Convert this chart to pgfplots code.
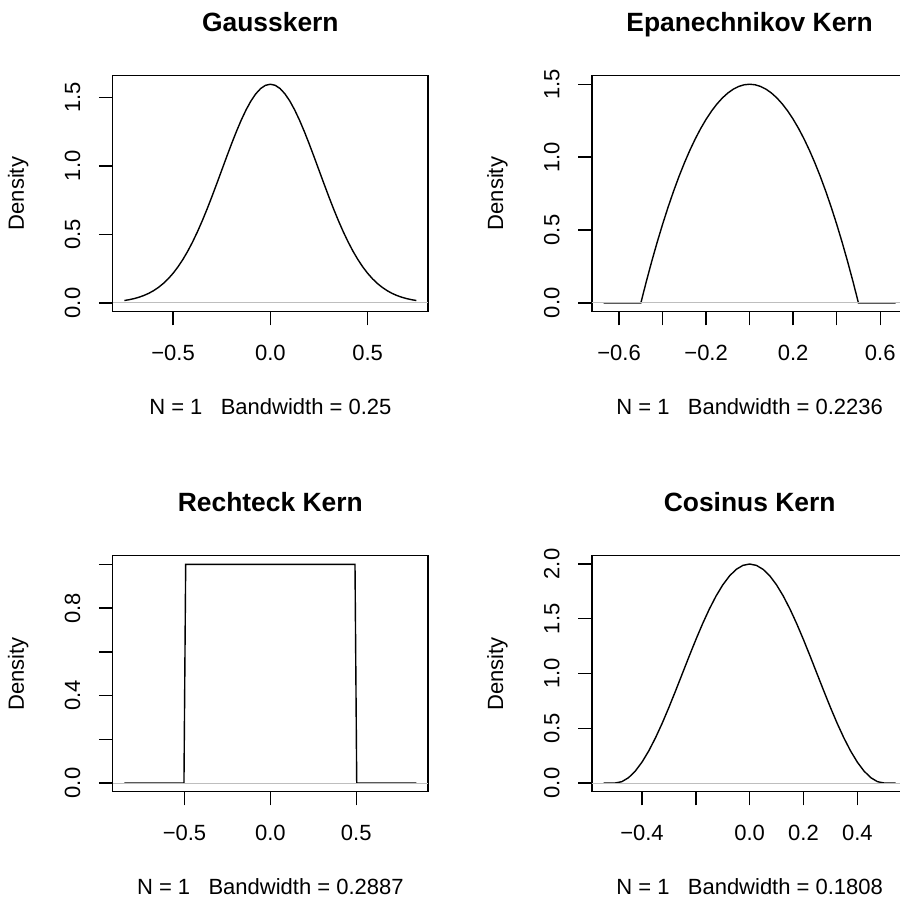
\documentclass[border=0pt]{standalone}
\usepackage{pgfplots}
\pgfplotsset{compat=1.18}
\usepackage{fontspec}
\setmainfont{Liberation Sans}
\definecolor{zerogray}{HTML}{BEBEBE}
\pgfplotsset{
  rpanel/.style={
    scale only axis, width=157.65pt, height=118.1pt,
    axis line style={line width=0.7pt},
    tick style={black, line width=0.7pt},
    tick align=outside, major tick length=6.85pt,
    xtick pos=bottom, ytick pos=left,
    minor tick num=0,
    tick label style={font=\fontsize{11}{13}\selectfont, inner sep=0pt},
    xticklabel style={anchor=north},
    yticklabel style={rotate=90, anchor=south},
    xticklabel shift=9.65pt,
    yticklabel shift=9.15pt,
    every axis title shift=0pt,
    title style={at={(axis description cs:0.5,1.1853)}, anchor=base, inner sep=0pt, yshift=0pt, font=\bfseries\fontsize{13.2}{16}\selectfont},
    xlabel style={at={(axis description cs:0.5,-0.4365)}, anchor=base, inner sep=0pt, font=\fontsize{11}{13}\selectfont},
    ylabel style={at={(axis description cs:-0.2662,0.5)}, anchor=south, inner sep=0pt, font=\fontsize{11}{13}\selectfont},
    ylabel={Density},
  },
  curve/.style={black, line width=0.7pt, mark=none},
  zline/.style={zerogray, line width=0.5pt, mark=none},
}
\begin{document}
\begin{tikzpicture}
\useasboundingbox (0,0) rectangle (450pt,448.5pt);
\clip (0,0) rectangle (450pt,448.5pt);

% Panel 1: Gauss
\begin{axis}[rpanel, at={(56.35pt,292.65pt)},
  xmin=-0.81, xmax=0.81, ymin=-0.0638, ymax=1.6596,
  xtick={-0.5,0,0.5}, xticklabels={−0.5,0.0,0.5},
  ytick={0,0.5,1,1.5}, yticklabels={0.0,0.5,1.0,1.5},
  title={Gausskern}, xlabel={N = 1\ \ \ Bandwidth = 0.25}]
\addplot[curve] coordinates {
(-0.750,0.017727)(-0.725,0.023811)(-0.700,0.031661)(-0.675,0.041684)(-0.650,0.054331)
(-0.625,0.070113)(-0.600,0.089578)(-0.575,0.113309)(-0.550,0.141899)(-0.525,0.175934)
(-0.500,0.215964)(-0.475,0.262466)(-0.450,0.315801)(-0.425,0.376196)(-0.400,0.443683)
(-0.375,0.518071)(-0.350,0.598890)(-0.325,0.685475)(-0.300,0.776744)(-0.275,0.871409)
(-0.250,0.967882)(-0.225,1.064342)(-0.200,1.158772)(-0.175,1.249018)(-0.150,1.332904)
(-0.125,1.408264)(-0.100,1.473081)(-0.075,1.525550)(-0.050,1.564171)(-0.025,1.587810)
(0.000,1.595769)
(0.025,1.587810)(0.050,1.564171)(0.075,1.525550)(0.100,1.473081)(0.125,1.408264)
(0.150,1.332904)(0.175,1.249018)(0.200,1.158772)(0.225,1.064342)(0.250,0.967882)
(0.275,0.871409)(0.300,0.776744)(0.325,0.685475)(0.350,0.598890)(0.375,0.518071)
(0.400,0.443683)(0.425,0.376196)(0.450,0.315801)(0.475,0.262466)(0.500,0.215964)
(0.525,0.175934)(0.550,0.141899)(0.575,0.113309)(0.600,0.089578)(0.625,0.070113)
(0.650,0.054331)(0.675,0.041684)(0.700,0.031661)(0.725,0.023811)(0.750,0.017727)
};
\addplot[zline] coordinates {(-0.81,0)(0.81,0)};
\end{axis}

% Panel 2: Epanechnikov
\begin{axis}[rpanel, at={(296pt,292.65pt)},
  xmin=-0.7245, xmax=0.7245, ymin=-0.06, ymax=1.56,
  xtick={-0.6,-0.4,-0.2,0,0.2,0.4,0.6}, xticklabels={−0.6,,−0.2,,0.2,,0.6},
  ytick={0,0.5,1,1.5}, yticklabels={0.0,0.5,1.0,1.5},
  title={Epanechnikov Kern}, xlabel={N = 1\ \ \ Bandwidth = 0.2236}]
\addplot[curve] coordinates {
(-0.6708,0)(-0.500,0)(-0.475,0.14625)(-0.450,0.285)(-0.425,0.41625)(-0.400,0.54)
(-0.375,0.65625)(-0.350,0.765)(-0.325,0.86625)(-0.300,0.96)(-0.275,1.04625)
(-0.250,1.125)(-0.225,1.19625)(-0.200,1.26)(-0.175,1.31625)(-0.150,1.365)
(-0.125,1.40625)(-0.100,1.44)(-0.075,1.46625)(-0.050,1.485)(-0.025,1.49625)
(0.000,1.5)
(0.025,1.49625)(0.050,1.485)(0.075,1.46625)(0.100,1.44)(0.125,1.40625)
(0.150,1.365)(0.175,1.31625)(0.200,1.26)(0.225,1.19625)(0.250,1.125)
(0.275,1.04625)(0.300,0.96)(0.325,0.86625)(0.350,0.765)(0.375,0.65625)
(0.400,0.54)(0.425,0.41625)(0.450,0.285)(0.475,0.14625)(0.500,0)(0.6708,0)
};
\addplot[zline] coordinates {(-0.7245,0)(0.7245,0)};
\end{axis}

% Panel 3: Rechteck
\begin{axis}[rpanel, at={(56.35pt,52.6pt)},
  xmin=-0.918, xmax=0.918, ymin=-0.04, ymax=1.04,
  xtick={-0.5,0,0.5}, xticklabels={−0.5,0.0,0.5},
  ytick={0,0.2,0.4,0.6,0.8,1.0}, yticklabels={0.0,,0.4,,0.8,},
  title={Rechteck Kern}, xlabel={N = 1\ \ \ Bandwidth = 0.2887}]
\addplot[curve] coordinates {
(-0.85,0)(-0.503,0)(-0.493,1)(0.493,1)(0.503,0)(0.85,0)
};
\addplot[zline] coordinates {(-0.918,0)(0.918,0)};
\end{axis}

% Panel 4: Cosinus
\begin{axis}[rpanel, at={(296pt,52.6pt)},
  xmin=-0.5858, xmax=0.5858, ymin=-0.08, ymax=2.077,
  xtick={-0.4,-0.2,0,0.2,0.4}, xticklabels={−0.4,,0.0,0.2,0.4},
  ytick={0,0.5,1,1.5,2}, yticklabels={0.0,0.5,1.0,1.5,2.0},
  title={Cosinus Kern}, xlabel={N = 1\ \ \ Bandwidth = 0.1808}]
\addplot[curve] coordinates {
(-0.5424,0)(-0.500,0)(-0.475,0.012312)(-0.450,0.048943)(-0.425,0.108993)(-0.400,0.190983)
(-0.375,0.292893)(-0.350,0.412215)(-0.325,0.546010)(-0.300,0.690983)(-0.275,0.843566)
(-0.250,1.0)(-0.225,1.156434)(-0.200,1.309017)(-0.175,1.453990)(-0.150,1.587785)
(-0.125,1.707107)(-0.100,1.809017)(-0.075,1.891007)(-0.050,1.951057)(-0.025,1.987688)
(0.000,2.0)
(0.025,1.987688)(0.050,1.951057)(0.075,1.891007)(0.100,1.809017)(0.125,1.707107)
(0.150,1.587785)(0.175,1.453990)(0.200,1.309017)(0.225,1.156434)(0.250,1.0)
(0.275,0.843566)(0.300,0.690983)(0.325,0.546010)(0.350,0.412215)(0.375,0.292893)
(0.400,0.190983)(0.425,0.108993)(0.450,0.048943)(0.475,0.012312)(0.500,0)(0.5424,0)
};
\addplot[zline] coordinates {(-0.5858,0)(0.5858,0)};
\end{axis}
\end{tikzpicture}
\end{document}
